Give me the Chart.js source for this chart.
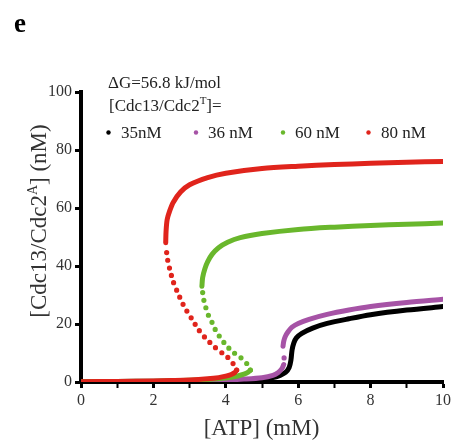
<!DOCTYPE html>
<html>
<head>
<meta charset="utf-8">
<script src="https://cdn.jsdelivr.net/npm/chart.js@4"></script>
<style>
  body { margin: 0; background: #fff; }
</style>
</head>
<body>
<canvas id="bifChart" width="456" height="446"></canvas>
<script>
// [ATP] (mM) vs [Cdc13/Cdc2A] (nM), one curve per total Cdc13/Cdc2
var seriesLabels = ['35nM', '36 nM', '60 nM', '80 nM'];
var seriesColors = ['#000000', '#a653a6', '#69b72c', '#e0241c'];

// 35 nM - monostable
var black35 = [[0,0.05],[2,0.15],[3,0.3],[4,0.5],[4.5,0.7],[5,1.1],[5.3,1.5],[5.5,2.3],[5.65,3.3],[5.75,5],
  [5.8,7.6],[5.83,11],[5.88,13.5],[5.95,15.2],[6.1,16.8],[6.4,18.6],[6.8,20.2],[7.4,21.8],[8,23.2],[9,24.8],[10,26]];

// 36 nM
var purpleLow = [[0,0.1],[1,0.2],[2,0.3],[3,0.45],[4,0.7],[4.5,1.0],[5,1.5],[5.3,2.3],[5.45,3.3],[5.55,4.6],[5.6,6]];
var purpleMid = [[5.61,8.3],[5.6,10.9]];
var purpleHigh = [[5.58,12.3],[5.6,14],[5.64,15.6],[5.72,17.3],[5.83,18.9],[6.0,20.2],[6.3,21.6],[6.8,23.3],[7.4,24.8],[8,26],[9,27.4],[10,28.5]];

// 60 nM
var greenLow = [[0,0.1],[1,0.2],[2,0.3],[3,0.6],[3.5,0.9],[4,1.4],[4.3,2.0],[4.5,2.7],[4.62,3.4],[4.68,4.1]];
var greenMid = [[4.68,4.1],[4.6,6],[4.5,7.5],[4.35,9],[4.18,10.5],[4.0,12.8],[3.86,15.1],[3.72,17.8],[3.63,20.3],[3.52,23],[3.44,26],[3.38,29],[3.35,32]];
var greenHigh = [[3.34,33],[3.36,36],[3.42,39],[3.5,41.5],[3.62,44],[3.8,46.3],[4.05,48.2],[4.4,49.8],[5,51.2],[6,52.6],[7,53.4],[8,54],[9,54.4],[10,54.8]];

// 80 nM
var redLow = [[0,0.1],[1,0.2],[2,0.35],[2.5,0.5],[3,0.7],[3.5,1.1],[3.8,1.5],[4.0,2.0],[4.15,2.6],[4.25,3.3],[4.3,4.1]];
var redMid = [[4.3,4.1],[4.22,6],[4.1,8],[3.9,10],[3.7,12],[3.45,15],[3.25,18],[3.05,22],[2.85,26],[2.7,30],[2.55,34.5],[2.45,39],[2.38,43],[2.35,47]];
var redHigh = [[2.34,48],[2.35,52],[2.38,56],[2.45,59],[2.55,62],[2.75,65.5],[3.0,68],[3.5,70.5],[4,72],[5,73.6],[6,74.4],[7,75],[8,75.4],[9,75.8],[10,76]];

var xTicks = [0, 2, 4, 6, 8, 10];
var yTicks = [0, 20, 40, 60, 80, 100];

var serif = '"Liberation Serif", "Times New Roman", serif';

function pts(a) {
  return a.map(function (p) { return { x: p[0], y: p[1] }; });
}

// solid = stable branch, dotted = unstable branch
function stable(color, data) {
  return {
    data: pts(data), showLine: true, borderColor: color, borderWidth: 5,
    pointRadius: 0, tension: 0.3, borderCapStyle: 'round', borderJoinStyle: 'round'
  };
}
function unstable(color, data) {
  return {
    data: pts(data), showLine: true, borderColor: color, borderWidth: 5.2,
    borderDash: [0, 7.8], borderCapStyle: 'round', pointRadius: 0, tension: 0.2
  };
}

var figText = {
  id: 'figText',
  afterDraw: function (chart) {
    var c = chart.ctx, x, i;
    c.save();
    c.textBaseline = 'alphabetic';
    c.textAlign = 'left';

    c.fillStyle = '#000';
    c.font = 'bold 27px ' + serif;
    c.fillText('e', 14, 32);

    c.fillStyle = '#222';
    c.font = '17px ' + serif;
    c.fillText('\u0394G=56.8 kJ/mol', 108, 88);

    x = 109;
    c.fillText('[Cdc13/Cdc2', x, 111);
    x += c.measureText('[Cdc13/Cdc2').width;
    c.font = '11px ' + serif;
    c.fillText('T', x, 104);
    x += c.measureText('T').width;
    c.font = '17px ' + serif;
    c.fillText(']=', x, 111);

    var dotX = [108.5, 196, 283, 368.5];
    var textX = [121, 208, 295, 381];
    for (i = 0; i < seriesLabels.length; i++) {
      c.fillStyle = seriesColors[i];
      c.beginPath();
      c.arc(dotX[i], 132.5, 2.2, 0, Math.PI * 2);
      c.fill();
      c.fillStyle = '#222';
      c.fillText(seriesLabels[i], textX[i], 137.5);
    }

    // axis titles
    c.fillStyle = '#333';
    c.font = '23px ' + serif;
    c.textAlign = 'center';
    c.fillText('[ATP] (mM)', 261.5, 435);

    c.save();
    c.translate(46, 221);
    c.rotate(-Math.PI / 2);
    c.textAlign = 'left';
    var a = '[Cdc13/Cdc2';
    c.font = '23px ' + serif;
    var wa = c.measureText(a).width, wb = c.measureText('] (nM)').width;
    c.font = '14px ' + serif;
    var ws = c.measureText('A').width;
    var x0 = -(wa + ws + wb) / 2;
    c.font = '23px ' + serif;
    c.fillText(a, x0, 0);
    c.font = '14px ' + serif;
    c.fillText('A', x0 + wa, -9);
    c.font = '23px ' + serif;
    c.fillText('] (nM)', x0 + wa + ws, 0);
    c.restore();

    c.restore();
  }
};

var axisGrid = {
  drawOnChartArea: false,
  drawTicks: true,
  tickLength: 6,
  tickColor: '#000',
  tickWidth: function (ctx) {
    return ctx.tick && ctx.tick.value % 2 ? 2 : 3;
  }
};

new Chart(document.getElementById('bifChart'), {
  type: 'scatter',
  data: {
    datasets: [
      stable(seriesColors[3], redHigh),
      unstable(seriesColors[3], redMid),
      stable(seriesColors[3], redLow),
      stable(seriesColors[2], greenHigh),
      unstable(seriesColors[2], greenMid),
      stable(seriesColors[2], greenLow),
      stable(seriesColors[1], purpleHigh),
      unstable(seriesColors[1], purpleMid),
      stable(seriesColors[1], purpleLow),
      stable(seriesColors[0], black35)
    ]
  },
  options: {
    responsive: false,
    animation: false,
    layout: { padding: { top: 92, right: 13, left: 0, bottom: 0 } },
    plugins: {
      legend: { display: false },
      tooltip: { enabled: false }
    },
    scales: {
      x: {
        type: 'linear', min: 0, max: 10,
        afterFit: function (s) { s.height = 64; },
        afterBuildTicks: function (s) {
          s.ticks = [];
          for (var v = 0; v <= 10; v++) s.ticks.push({ value: v });
        },
        ticks: {
          autoSkip: false, maxRotation: 0, padding: 3,
          color: '#333',
          font: { family: serif, size: 16 },
          callback: function (v) { return xTicks.indexOf(v) >= 0 ? String(v) : ''; }
        },
        grid: axisGrid,
        border: { display: true, color: '#000', width: 4 }
      },
      y: {
        type: 'linear', min: 0, max: 100,
        afterFit: function (s) { s.width = 81; },
        afterBuildTicks: function (s) {
          s.ticks = yTicks.map(function (v) { return { value: v }; });
        },
        ticks: {
          padding: 3, color: '#333',
          font: { family: serif, size: 16 }
        },
        grid: {
          drawOnChartArea: false, tickLength: 6, tickColor: '#000', tickWidth: 3
        },
        border: { display: true, color: '#000', width: 4 }
      }
    }
  },
  plugins: [figText]
});
</script>
</body>
</html>
